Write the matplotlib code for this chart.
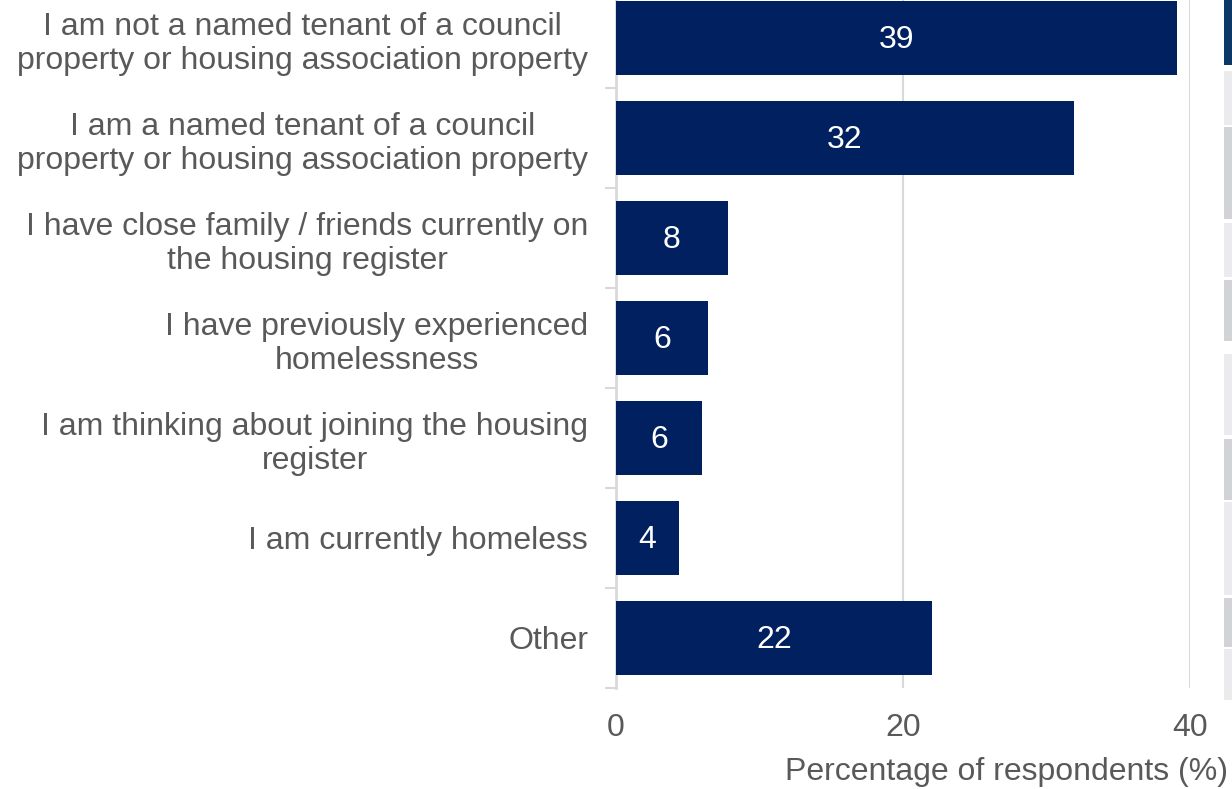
import matplotlib.pyplot as plt
import numpy as np
from matplotlib.patches import Rectangle

plt.rcParams["font.family"] = ["Liberation Sans", "DejaVu Sans"]

categories = [
    "I am not a named tenant of a council\nproperty or housing association property",
    "I am a named tenant of a council\nproperty or housing association property",
    "I have close family / friends currently on\nthe housing register",
    "I have previously experienced\nhomelessness",
    "I am thinking about joining the housing\nregister",
    "I am currently homeless",
    "Other",
]
percentages = [39.1, 31.9, 7.8, 6.4, 6.0, 4.4, 22.0]
x_ticks = [0, 20, 40]

BAR_COLOUR = "#002060"
TEXT_COLOUR = "#595959"
GRID_COLOUR = "#d9d9d9"
FONT_SIZE = 23

fig = plt.figure(figsize=(12.32, 7.89), dpi=100)
ax = fig.add_axes([616 / 1232, 101 / 789, 574 / 1232, 700 / 789])

y = np.arange(len(categories))
bars = ax.barh(y, percentages, height=0.74, color=BAR_COLOUR, zorder=3)

for rect, value in zip(bars, percentages):
    ax.text(
        rect.get_width() / 2,
        rect.get_y() + rect.get_height() / 2 + 0.02,
        f"{value:.0f}",
        ha="center",
        va="center",
        color="white",
        fontsize=FONT_SIZE,
        zorder=4,
    )

ax.set_ylim(len(categories) - 0.5, -0.5)
ax.set_xlim(0, 40)

ax.set_yticks(y)
ax.set_yticklabels(categories, fontsize=FONT_SIZE, color=TEXT_COLOUR,
                   multialignment="center", linespacing=1.2)
ax.set_yticks(np.arange(len(categories)) + 0.5, minor=True)
ax.tick_params(axis="y", which="major", length=0, pad=20)
ax.tick_params(axis="y", which="minor", length=8, width=1.5, color=GRID_COLOUR)

ax.set_xticks(x_ticks)
ax.set_xticklabels([str(t) for t in x_ticks], fontsize=FONT_SIZE, color=TEXT_COLOUR)
ax.tick_params(axis="x", length=0, pad=18)

ax.xaxis.grid(True, color=GRID_COLOUR, linewidth=1.5, zorder=0)
for side in ["top", "right", "bottom"]:
    ax.spines[side].set_visible(False)
ax.spines["left"].set_color(GRID_COLOUR)
ax.spines["left"].set_linewidth(2)

fig.text(1228 / 1232, 1 - 772 / 789, "Percentage of respondents (%)",
         ha="right", va="center", fontsize=FONT_SIZE, color=TEXT_COLOUR)

# edge of the neighbouring table panel
panel_rows = [
    (0, 65, "#0c3866"), (71, 125, "#ebebed"), (127, 219, "#d2d3d7"),
    (223, 277, "#ebebed"), (280, 341, "#d2d3d7"), (354, 435, "#ebebed"),
    (439, 500, "#d2d3d7"), (502, 595, "#ebebed"), (598, 647, "#d2d3d7"),
    (649, 700, "#ebebed"),
]
for top, bottom, colour in panel_rows:
    fig.patches.append(Rectangle(
        (1224 / 1232, 1 - bottom / 789), 10 / 1232, (bottom - top) / 789,
        transform=fig.transFigure, color=colour, linewidth=0,
    ))

fig.savefig("out.png", dpi=100)
